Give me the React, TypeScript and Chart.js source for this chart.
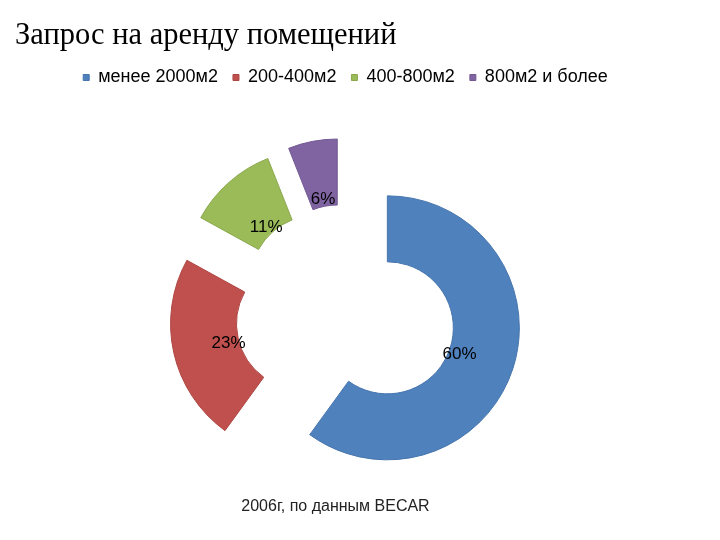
import React, { useEffect, useRef } from "react";
import { Chart, registerables } from "chart.js";

Chart.register(...registerables);

const titleText = "Запрос на аренду помещений";
const footerText = "2006г, по данным BECAR";
const categories = ["менее 2000м2", "200-400м2", "400-800м2", "800м2 и более"];
const shares = [60, 23, 11, 6];
const fillColors = ["#4F81BD", "#C0504D", "#9BBB59", "#8064A2"];
const edgeColors = ["#4675ad", "#ad4744", "#8ba84f", "#735a93"];

const EXPLODE = 44;
const LABEL_POS = 0.15;
const LABEL_DY = 3;

const explodePlugin = {
  id: "explodeSlices",
  beforeDatasetDraw(chart: any, args: any) {
    const ctx = chart.ctx;
    args.meta.data.forEach((arc: any) => {
      const a = (arc.startAngle + arc.endAngle) / 2;
      ctx.save();
      ctx.translate(Math.cos(a) * EXPLODE, Math.sin(a) * EXPLODE);
      arc.draw(ctx, chart.chartArea);
      ctx.restore();
    });
    return false;
  },
  afterDatasetsDraw(chart: any) {
    const ctx = chart.ctx;
    const meta = chart.getDatasetMeta(0);
    const values = chart.data.datasets[0].data;
    ctx.save();
    ctx.font = '17px "Liberation Sans", Arial, sans-serif';
    ctx.fillStyle = "#000";
    ctx.textAlign = "center";
    ctx.textBaseline = "middle";
    meta.data.forEach((arc: any, i: number) => {
      const a = (arc.startAngle + arc.endAngle) / 2;
      const r = EXPLODE + arc.innerRadius + (arc.outerRadius - arc.innerRadius) * LABEL_POS;
      ctx.fillText(values[i] + "%", arc.x + Math.cos(a) * r, arc.y + Math.sin(a) * r + LABEL_DY);
    });
    ctx.restore();
  },
};

export default function App() {
  const canvasRef = useRef<HTMLCanvasElement | null>(null);

  useEffect(() => {
    if (!canvasRef.current) return;
    const chart = new Chart(canvasRef.current, {
      type: "doughnut",
      data: {
        labels: categories,
        datasets: [
          {
            data: shares,
            backgroundColor: fillColors,
            borderColor: edgeColors,
            borderWidth: 1,
          },
        ],
      },
      options: {
        animation: false,
        responsive: true,
        maintainAspectRatio: false,
        events: [],
        radius: 132,
        cutout: "50%",
        layout: { padding: { left: 7, right: 36, top: 0, bottom: 0 } },
        plugins: {
          tooltip: { enabled: false },
          title: {
            display: true,
            text: titleText,
            align: "start",
            color: "#000",
            font: { family: '"Liberation Serif", "Times New Roman", serif', size: 30.5, weight: "normal", lineHeight: 1 },
            padding: { top: 13, bottom: 2 },
          },
          legend: {
            display: true,
            position: "top",
            align: "center",
            labels: {
              color: "#000",
              font: { family: '"Liberation Sans", Arial, sans-serif', size: 18 },
              boxWidth: 6,
              boxHeight: 6,
              padding: 15,
            },
          },
        },
      } as any,
      plugins: [explodePlugin as any],
    });
    return () => chart.destroy();
  }, []);

  return (
    <div style={{ position: "relative", width: 704, height: 524 }}>
      <canvas ref={canvasRef} />
      <div
        style={{
          position: "absolute",
          left: 0,
          width: 655,
          top: 488,
          lineHeight: "20px",
          textAlign: "center",
          fontFamily: '"Liberation Sans", Arial, sans-serif',
          fontSize: 16,
          color: "#222",
        }}
      >
        {footerText}
      </div>
    </div>
  );
}
